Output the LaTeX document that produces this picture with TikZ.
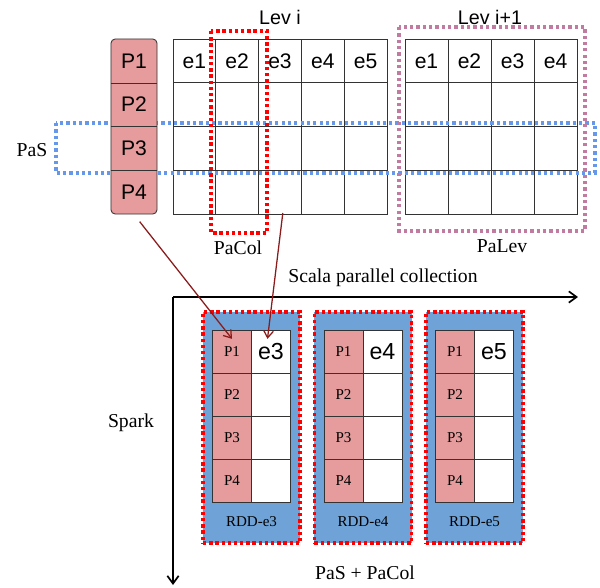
\documentclass[tikz,border=0pt]{standalone}
\usepackage{fontspec}
\setmainfont{Liberation Serif}
\newfontfamily\arialfont{Liberation Sans}
\usetikzlibrary{positioning, arrows.meta, calc}
\definecolor{ppink}{HTML}{E69C9C}
\definecolor{rddblue}{HTML}{6FA3D8}
\definecolor{dotblue}{HTML}{6598EA}
\definecolor{dotred}{HTML}{FF0000}
\definecolor{dotmauve}{HTML}{C27BA0}
\definecolor{darkarrow}{HTML}{8B1A1A}
\definecolor{gridgray}{HTML}{333333}

\tikzset{
  cell/.style={draw=gridgray, line width=0.6pt, minimum width=1.07cm,
               minimum height=1.094cm, inner sep=0pt,
               font=\arialfont\fontsize{15}{18}\selectfont},
  pcol/.style={draw=gridgray, fill=ppink, line width=0.6pt, rounded corners=3pt,
               minimum width=1.15cm, minimum height=4.375cm, inner sep=0pt},
  plabel/.style={minimum width=1.15cm, minimum height=1.094cm, inner sep=0pt,
                 font=\arialfont\fontsize{15}{18}\selectfont},
  rddbox/.style={fill=rddblue, draw=dotred, line width=2.4pt,
                 dash pattern=on 2.4pt off 2pt,
                 minimum width=2.425cm, minimum height=5.775cm, inner sep=0pt},
  pcell/.style={draw=gridgray, fill=ppink, line width=0.6pt, minimum width=0.975cm,
                minimum height=1.075cm, inner sep=0pt,
                font=\fontsize{10.7}{12}\selectfont},
  ecell/.style={draw=gridgray, fill=white, line width=0.6pt, minimum width=0.975cm,
                minimum height=1.075cm, inner sep=0pt,
                font=\arialfont\fontsize{16.5}{18}\selectfont},
  title/.style={font=\arialfont\fontsize{14}{16}\selectfont},
  tag/.style={font=\fontsize{14}{16}\selectfont},
  small/.style={font=\fontsize{10.7}{12}\selectfont},
  flow/.style={draw=darkarrow, line width=0.9pt,
               -{Straight Barb[length=5pt, width=7pt]}},
  axis/.style={draw=black, line width=1.2pt,
               -{Straight Barb[length=5.5pt, width=8pt]}},
  pasdots/.style={draw=dotblue, line width=2.3pt, dash pattern=on 2.3pt off 2.2pt},
  levdots/.style={draw=dotmauve, line width=2.3pt, dash pattern=on 2.3pt off 2.2pt},
  reddots/.style={draw=dotred, line width=2.4pt, dash pattern=on 2.4pt off 2pt}
}

\begin{document}
\begin{tikzpicture}[x=0.025cm, y=-0.025cm]
  \useasboundingbox (0,0) rectangle (600,587);

  % Lev i
  \foreach \c in {1,...,5}
    \node[cell] (a-\c-1) at ({173+42.8*(\c-0.5)},60.9) {e\c};
  \foreach \c in {1,...,5}
    \foreach \r in {2,3,4}
      \node[cell] (a-\c-\r) at ({173+42.8*(\c-0.5)},{39+43.75*(\r-0.5)}) {};
  \node[title] (levi) at (280,17) {Lev i};

  % Lev i+1
  \foreach \c in {1,...,4}
    \node[cell, minimum width=1.075cm] (b-\c-1) at ({405+43*(\c-0.5)},60.9) {e\c};
  \foreach \c in {1,...,4}
    \foreach \r in {2,3,4}
      \node[cell, minimum width=1.075cm] (b-\c-\r) at ({405+43*(\c-0.5)},{39+43.75*(\r-0.5)}) {};
  \node[title] (levj) at (490,17) {Lev i+1};

  % partitions
  \draw[pasdots] (56,123) rectangle (595,173);
  \draw[reddots] (211,31) rectangle (267,233);
  \draw[levdots] (399,27) rectangle (585,231);
  \node[tag] (pas) at (32,150) {PaS};
  \node[tag] (pacol) at (238,248) {PaCol};
  \node[tag] (palev) at (502,246) {PaLev};

  % P column
  \node[pcol] (pcol) at (134,126.5) {};
  \foreach \r in {1,...,4}
    \node[plabel] (p\r) at (134,{39+43.75*(\r-0.5)}) {P\r};
  \foreach \r in {1,2,3}
    \draw[gridgray, line width=0.6pt] (p\r.south west) -- (p\r.south east);

  % Spark side
  \coordinate (origin) at (173,297);
  \coordinate (xend) at (578,297);
  \coordinate (yend) at (173,585);
  \draw[axis] (origin) -- (xend);
  \draw[axis] (origin) -- (yend);
  \node[tag] (scala) at (383,278) {Scala parallel collection};
  \node[tag] (spark) at (131,423) {Spark};
  \node[tag] (both) at (365,573) {PaS + PaCol};

  \foreach \e [count=\i, evaluate=\i as \cx using 251.5+111.5*(\i-1)] in {3,4,5} {
    \node[rddbox] (rdd\e) at (\cx,427.5) {};
    \node[pcell] (r\e-p1) at ({\cx-19.5},351.5) {P1};
    \node[ecell] (r\e-e) at ({\cx+19.5},351.5) {e\e};
    \foreach \r in {2,3,4} {
      \node[pcell] (r\e-p\r) at ({\cx-19.5},{330+43*(\r-0.5)}) {P\r};
      \node[ecell] (r\e-b\r) at ({\cx+19.5},{330+43*(\r-0.5)}) {};
    }
    \node[small] (lab\e) at (\cx,522) {RDD-e\e};
  }

  % arrows
  \draw[flow, shorten <=6.5pt] (pcol.south) -- ([yshift=9pt]r3-p1.center);
  \draw[flow] ([xshift=2pt, yshift=1pt]a-3-4.south) -- ([xshift=-2.5pt, yshift=9pt]r3-e.center);
\end{tikzpicture}
\end{document}
